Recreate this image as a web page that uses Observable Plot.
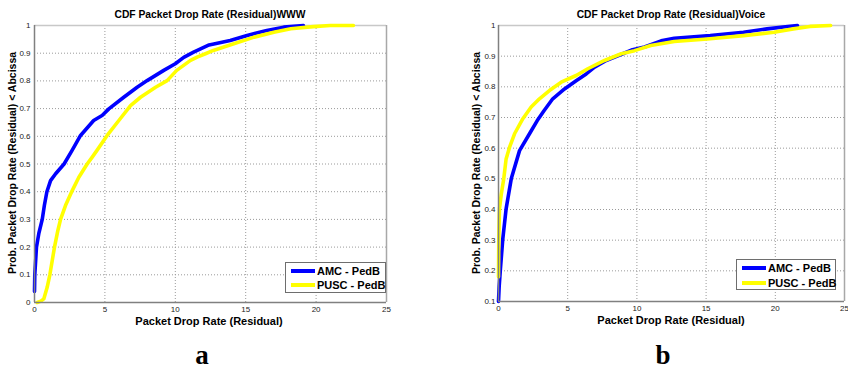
<!DOCTYPE html>
<html><head><meta charset="utf-8">
<script src="https://cdn.jsdelivr.net/npm/d3@7"></script>
<script src="https://cdn.jsdelivr.net/npm/@observablehq/plot@0.6"></script>
<style>
body{margin:0;background:#fff;}
#wrap{position:relative;width:848px;height:371px;overflow:hidden;font-family:"Liberation Sans",Arial,sans-serif;color:#000;}
.panel{position:absolute;top:0;}
.t{position:absolute;font-weight:bold;font-size:11px;white-space:nowrap;transform:translate(-50%,-50%);}
.tt{position:absolute;font-weight:bold;font-size:10.3px;white-space:nowrap;transform:translate(-50%,-50%);}
.yl{position:absolute;font-weight:bold;font-size:10.5px;white-space:nowrap;transform:translate(-50%,-50%) rotate(-90deg);}
.big{position:absolute;font-family:"Liberation Serif","Times New Roman",serif;font-weight:bold;font-size:27px;transform:translate(-50%,0);}
.leg{position:absolute;background:#fff;border:1px solid #6e6e6e;box-sizing:border-box;}
.sw{position:absolute;height:4px;width:24px;}
.lt{position:absolute;font-weight:bold;font-size:11px;white-space:nowrap;line-height:14px;}
</style></head>
<body><div id="wrap"></div>
<script>
// ---- data ----
const xTicks = [0, 5, 10, 15, 20, 25];
const yTicksA = [0, 0.1, 0.2, 0.3, 0.4, 0.5, 0.6, 0.7, 0.8, 0.9, 1];
const yTicksB = [0.1, 0.2, 0.3, 0.4, 0.5, 0.6, 0.7, 0.8, 0.9, 1];
const seriesNames = ["AMC - PedB", "PUSC - PedB"];
const seriesColors = ["#0000ff", "#ffff00"];
const titles = ["CDF Packet Drop Rate (Residual)WWW", "CDF Packet Drop Rate (Residual)Voice"];
const xLabel = "Packet Drop Rate (Residual)";
const yLabel = "Prob. Packet Drop Rate (Residual) < Abcissa";
const panelLetters = ["a", "b"];

const amcWww = [[0,0.04],[0.02,0.1],[0.14,0.2],[0.31,0.25],[0.55,0.3],[0.7,0.35],[0.88,0.4],[1.14,0.44],[1.5,0.465],[2.1,0.5],[2.68,0.55],[3.27,0.603],[4.2,0.657],[4.8,0.675],[5.28,0.699],[6.34,0.741],[7.29,0.777],[8.0,0.801],[9.18,0.838],[10.0,0.862],[10.6,0.885],[11.3,0.904],[12.4,0.93],[13.9,0.946],[15.1,0.964],[16.5,0.982],[17.7,0.994],[19.1,1.0]];
const puscWww = [[0.19,0],[0.45,0.005],[0.66,0.013],[0.9,0.055],[1.09,0.1],[1.42,0.2],[1.66,0.26],[1.85,0.3],[2.2,0.35],[2.68,0.404],[3.15,0.452],[3.74,0.5],[4.1,0.525],[4.45,0.55],[5.16,0.603],[5.99,0.657],[6.82,0.711],[7.53,0.741],[8.6,0.777],[9.42,0.801],[10.1,0.838],[11.08,0.874],[11.55,0.886],[12.14,0.898],[12.7,0.91],[14.15,0.934],[15.6,0.958],[17.0,0.976],[18.2,0.988],[19.8,0.996],[21.0,1.0],[22.65,1.0]];
const amcVoice = [[0,0.1],[0.05,0.15],[0.14,0.207],[0.31,0.304],[0.55,0.402],[0.92,0.5],[1.52,0.592],[2.24,0.647],[2.8,0.69],[3.3,0.723],[3.92,0.761],[4.77,0.793],[5.61,0.82],[6.34,0.842],[6.94,0.864],[7.78,0.886],[8.98,0.908],[9.6,0.92],[10.55,0.93],[11.75,0.95],[12.7,0.958],[15.3,0.967],[17.7,0.978],[19.4,0.989],[20.9,0.997],[21.6,1.0]];
const puscVoice = [[0,0.18],[0.02,0.3],[0.05,0.364],[0.07,0.402],[0.2,0.45],[0.38,0.5],[0.55,0.565],[0.8,0.603],[1.16,0.647],[1.76,0.696],[2.36,0.734],[2.96,0.761],[3.68,0.788],[4.53,0.815],[5.61,0.837],[6.45,0.859],[7.66,0.886],[8.87,0.908],[9.83,0.918],[11.0,0.935],[12.7,0.948],[15.1,0.956],[17.7,0.967],[19.9,0.978],[21.3,0.989],[22.5,0.997],[24.0,1.0]];

// ---- layout ----
const panels = [
  {left:0, series:[amcWww, puscWww], yDomain:[0,1], yTicks:yTicksA, m:{l:34,r:38,t:25,b:38}, yPad:4,
   title:[210,14], yl:[12,163], xl:[209,321], letter:[202,340],
   leg:{x:285,y:262,w:101,h:31,r1:8,r2:22,sx:5,tx:31}},
  {left:424, series:[amcVoice, puscVoice], yDomain:[0.1,1], yTicks:yTicksB, m:{l:74,r:4,t:25,b:39}, yPad:3,
   title:[671,14], yl:[476,163], xl:[671,320], letter:[663,340],
   leg:{x:736,y:259,w:100,h:31,r1:8,r2:23,sx:5,tx:31}}
];

const wrap = document.getElementById("wrap");
function add(cls, text, x, y) {
  const d = document.createElement("div");
  d.className = cls; d.textContent = text;
  d.style.left = x + "px"; d.style.top = y + "px";
  wrap.appendChild(d); return d;
}

panels.forEach((p, i) => {
  const lines = p.series.map((s, k) => Plot.line(s.map(([x, y]) => ({x, y})), {
    x: "x", y: "y", stroke: seriesColors[k], strokeWidth: 3.6, strokeLinejoin: "round"
  }));
  const svg = Plot.plot({
    width: 424, height: 340,
    marginLeft: p.m.l, marginRight: p.m.r, marginTop: p.m.t, marginBottom: p.m.b,
    x: {domain: [0, 25]},
    y: {domain: p.yDomain},
    style: {fontFamily: "'Liberation Sans', Arial, sans-serif", fontSize: "8px", background: "white", overflow: "visible", color: "#222"},
    marks: [
      Plot.gridX(xTicks, {stroke: "#9a9a9a", strokeOpacity: 1, strokeDasharray: "1,2"}),
      Plot.gridY(p.yTicks, {stroke: "#9a9a9a", strokeOpacity: 1, strokeDasharray: "1,2"}),
      Plot.ruleY([p.yDomain[1]], {stroke: "#c8c8c8", strokeWidth: 1.5}),
      Plot.ruleX([25], {stroke: "#a8a8a8", strokeWidth: 1.5}),
      ...lines,
      Plot.ruleY([p.yDomain[0]], {stroke: "#808080", strokeWidth: 1.5}),
      Plot.ruleX([0], {stroke: "#808080", strokeWidth: 1.5}),
      Plot.axisX(xTicks, {tickSize: 0, tickPadding: 4, label: null, tickFormat: d => String(d)}),
      Plot.axisY(p.yTicks, {tickSize: 0, tickPadding: p.yPad, label: null, tickFormat: d => String(d)})
    ]
  });
  svg.classList.add("panel");
  svg.style.left = p.left + "px";
  wrap.appendChild(svg);

  add("tt", titles[i], p.title[0], p.title[1]);
  add("yl", yLabel, p.yl[0], p.yl[1]);
  add("t", xLabel, p.xl[0], p.xl[1]);
  add("big", panelLetters[i], p.letter[0], p.letter[1]);

  const L = p.leg;
  const box = document.createElement("div");
  box.className = "leg";
  Object.assign(box.style, {left: L.x + "px", top: L.y + "px", width: L.w + "px", height: L.h + "px"});
  [L.r1, L.r2].forEach((ry, k) => {
    const sw = document.createElement("div");
    sw.className = "sw";
    Object.assign(sw.style, {left: L.sx + "px", top: (ry - 2) + "px", background: seriesColors[k]});
    box.appendChild(sw);
    const lt = document.createElement("div");
    lt.className = "lt"; lt.textContent = seriesNames[k];
    Object.assign(lt.style, {left: L.tx + "px", top: (ry - 7) + "px"});
    box.appendChild(lt);
  });
  wrap.appendChild(box);
});
</script>
</body></html>
